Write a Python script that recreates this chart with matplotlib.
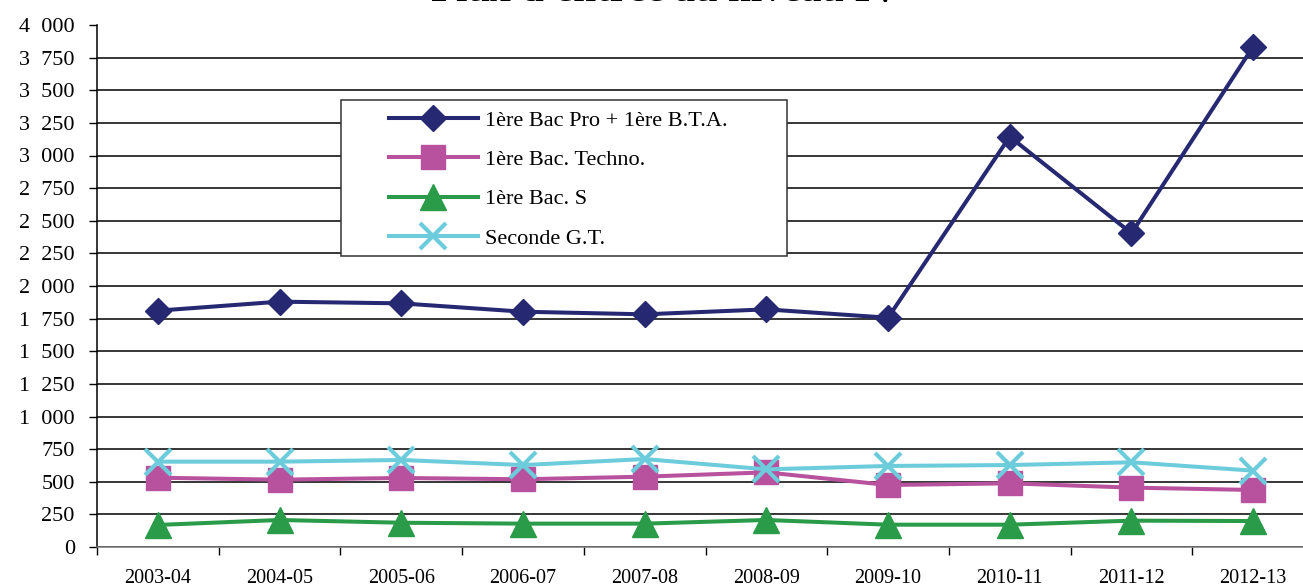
import matplotlib
matplotlib.use("Agg")
import matplotlib.pyplot as plt
from matplotlib.patches import Rectangle
from matplotlib.ticker import FuncFormatter

# données
annees = ["2003-04", "2004-05", "2005-06", "2006-07", "2007-08",
          "2008-09", "2009-10", "2010-11", "2011-12", "2012-13"]
bac_pro_bta = [1811, 1880, 1867, 1803, 1783, 1821, 1757, 3144, 2404, 3834]
bac_techno = [531, 516, 529, 519, 539, 572, 475, 488, 455, 437]
bac_s = [169, 207, 186, 179, 179, 207, 171, 171, 202, 199]
seconde_gt = [654, 654, 667, 628, 674, 595, 621, 628, 649, 585]

series = [
    ("1ère Bac Pro + 1ère B.T.A.", bac_pro_bta, "#262872", "D", 13.5, 1),
    ("1ère Bac. Techno.", bac_techno, "#B8529E", "s", 17, 1),
    ("1ère Bac. S", bac_s, "#2A9B48", "^", 19, 1),
    ("Seconde G.T.", seconde_gt, "#6DCCDC", "x", 19, 3),
]

plt.rcParams["font.family"] = ["Liberation Serif", "DejaVu Serif"]

fig = plt.figure(figsize=(13.03, 5.88), dpi=100)
ax = fig.add_axes([97 / 1303, 1 - 547 / 588, 1217 / 1303, 522 / 588])

x = list(range(len(annees)))
handles = []
for nom, valeurs, couleur, marqueur, taille, mew in series:
    (h,) = ax.plot(x, valeurs, color=couleur, lw=2.9, marker=marqueur,
                   markersize=taille, markeredgewidth=mew,
                   markeredgecolor=couleur, markerfacecolor=couleur,
                   label=nom, clip_on=False, zorder=3)
    handles.append(h)

# axe des ordonnées (séparateur de milliers : espace large)
ax.set_ylim(0, 4000)
ax.set_yticks(range(0, 4001, 250))
ax.yaxis.set_major_formatter(
    FuncFormatter(lambda v, p: f"{int(v):,}".replace(",", "\u2002")))
ax.tick_params(axis="y", direction="out", length=6, width=1, pad=10,
               labelsize=16, colors="black")
ax.yaxis.grid(True, color="black", lw=1.1)
ax.get_ygridlines()[-1].set_visible(False)
ax.set_axisbelow(True)

# axe des abscisses : graduations entre les catégories
ax.set_xlim(-0.5, len(annees) - 0.5)
ax.set_xticks([i - 0.5 for i in range(len(annees) + 1)])
ax.set_xticklabels([])
ax.set_xticks(x, minor=True)
ax.set_xticklabels(annees, minor=True)
ax.tick_params(axis="x", which="major", direction="out", length=6, width=1)
ax.tick_params(axis="x", which="minor", length=0, pad=16, labelsize=14.5)

for cote in ["top", "right"]:
    ax.spines[cote].set_visible(False)
ax.spines["left"].set_linewidth(1.1)
ax.spines["bottom"].set_color("#777777")
ax.spines["bottom"].set_linewidth(1.1)

# titre (coupé en haut de l'image)
fig.text(0.511, 1 - 1 / 588, "Flux d'entrée au niveau IV", ha="center",
         va="baseline", fontsize=29.5, fontweight="bold")

# légende avec cadre dessiné à part
fig.patches.append(Rectangle((341 / 1303, 1 - 256 / 588), 446 / 1303,
                             156 / 588, transform=fig.transFigure,
                             facecolor="white", edgecolor="#333333",
                             lw=1.1, zorder=2))
leg = fig.legend(handles=handles, loc="upper left",
                 bbox_to_anchor=(389 / 1303, 1 - 110 / 588),
                 frameon=False, fontsize=16, handlelength=4.0,
                 handletextpad=0.3, labelspacing=0.85, borderpad=0,
                 borderaxespad=0, numpoints=1)
leg.set_zorder(4)

fig.savefig("out.png", dpi=100)
